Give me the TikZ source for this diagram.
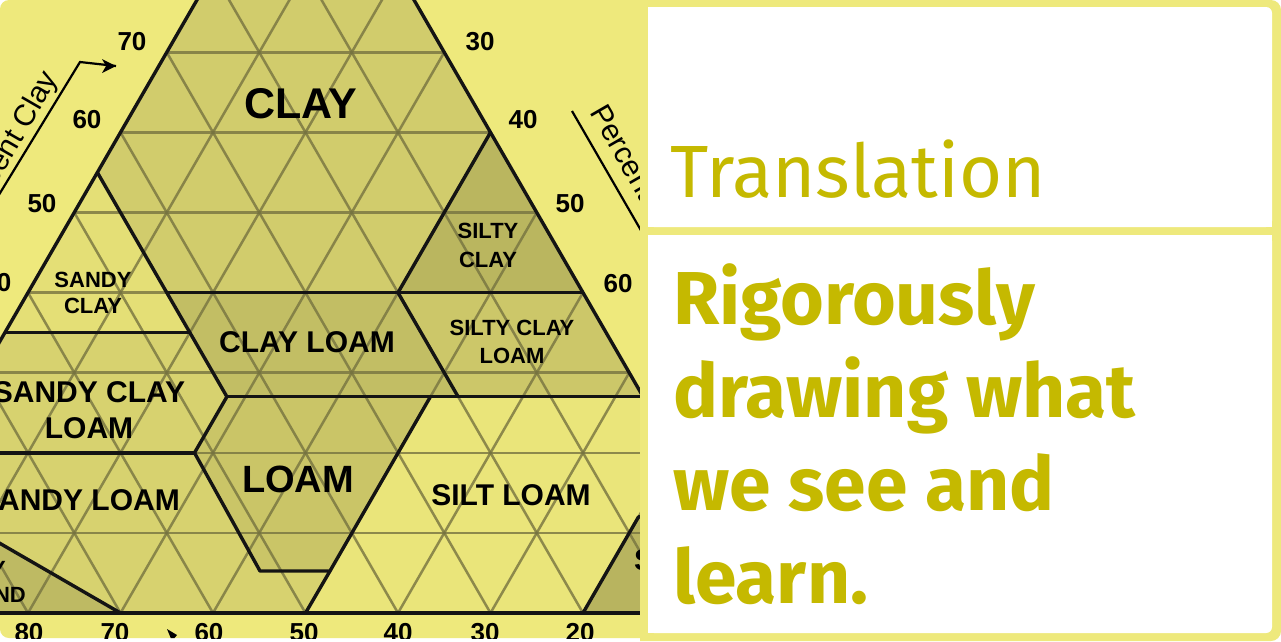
\documentclass[tikz,border=0pt]{standalone}
\usepackage{fontspec}
\setmainfont{Liberation Sans}
\newfontfamily\fira{Fira Sans}
\usetikzlibrary{arrows.meta}
\definecolor{bgy}{RGB}{238,233,124}
\definecolor{ttxt}{RGB}{197,185,0}
\definecolor{gridc}{RGB}{118,115,64}
\definecolor{cClay}{RGB}{209,204,108}
\definecolor{cSandyClay}{RGB}{228,223,118}
\definecolor{cSiltyClay}{RGB}{186,182,95}
\definecolor{cClayLoam}{RGB}{194,190,100}
\definecolor{cSiltyClayLoam}{RGB}{204,199,105}
\definecolor{cSandyClayLoam}{RGB}{215,210,111}
\definecolor{cLoam}{RGB}{202,197,103}
\definecolor{cSiltLoam}{RGB}{234,229,122}
\definecolor{cSandyLoam}{RGB}{215,210,111}
\definecolor{cLoamySand}{RGB}{190,186,99}
\definecolor{cSilt}{RGB}{184,180,95}
\tikzset{
  gridline/.style={draw=gridc, line width=2.5pt, opacity=0.8},
  bound/.style={draw=black!92, line width=3.4pt, line join=round},
  lab/.style={inner sep=0pt, anchor=base, text=black, font=\bfseries\fontsize{#1}{#1}\selectfont},
  num/.style={inner sep=0pt, anchor=base, text=black, font=\bfseries\fontsize{26}{26}\selectfont},
  axtext/.style={inner sep=0pt, text=black, font=\fontsize{30}{30}\selectfont},
}
\begin{document}
\begin{tikzpicture}[x=1pt,y=-1pt]
\useasboundingbox (0,0) rectangle (1281,641);
% page
\fill[white] (0,0) rectangle (1281,641);
% ---------- left panel ----------
\begin{scope}
\clip (640,0) [rounded corners=9pt] -- (0,0) -- (0,638) [sharp corners] -- (640,638) -- cycle;
\fill[bgy] (0,0) rectangle (640,641);
% region fills
\fill[cClay] (305.5,-188) -- (490.5,132.4) -- (398,292.6) -- (166.75,292.6) -- (97.4,172.5) -- cycle;
\fill[cSiltyClay] (490.5,132.4) -- (583,292.6) -- (398,292.6) -- cycle;
\fill[cSandyClay] (97.4,172.5) -- (189.9,332.6) -- (4.9,332.6) -- cycle;
\fill[cClayLoam] (166.75,292.6) -- (398,292.6) -- (458.1,396.7) -- (226.9,396.7) -- cycle;
\fill[cSiltyClayLoam] (398,292.6) -- (583,292.6) -- (643.1,396.7) -- (458.1,396.7) -- cycle;
\fill[cSandyClayLoam] (4.9,332.6) -- (189.9,332.6) -- (226.9,396.7) -- (194.5,452.8) -- (-64.5,452.8) -- cycle;
\fill[cLoam] (226.9,396.7) -- (430.4,396.7) -- (330,571) -- (260,571) -- (194.5,452.8) -- cycle;
\fill[cSiltLoam] (430.4,396.7) -- (643.1,396.7) -- (712.5,516.9) -- (638.5,516.9) -- (583,613) -- (305.5,613) -- (330,571) -- cycle;
\fill[cSandyLoam] (-64.5,452.8) -- (194.5,452.8) -- (260,571) -- (330,571) -- (305.5,613) -- (120.5,613) -- (-87.6,492.8) -- cycle;
\fill[cLoamySand] (-87.6,492.8) -- (120.5,613) -- (-157,613) -- cycle;
\fill[cSilt] (638.5,516.9) -- (712.5,516.9) -- (768,613) -- (583,613) -- cycle;
% grid
\begin{scope}
\clip (-157,613) -- (768,613) -- (305.5,-188) -- cycle;
\foreach \k in {1,...,9}{
  \draw[gridline] (-200,{613-80.1*\k}) -- (800,{613-80.1*\k});
  \draw[gridline] ({-157+92.5*\k},613) -- ++(-462.5,-801);
  \draw[gridline] ({-157+92.5*\k},613) -- ++(462.5,-801);
}
\end{scope}
% triangle edges
\draw[bound] (-157,613) -- (768,613);
\draw[bound] (-157,613) -- (305.5,-188) -- (768,613);
% class boundaries
\draw[bound] (97.4,172.5) -- (226.9,396.7);
\draw[bound] (166.75,292.6) -- (583,292.6);
\draw[bound] (490.5,132.4) -- (398,292.6) -- (458.1,396.7);
\draw[bound] (4.9,332.6) -- (189.9,332.6);
\draw[bound] (226.9,396.7) -- (643.1,396.7);
\draw[bound] (226.9,396.7) -- (194.5,452.8) -- (260,571) -- (330,571) -- (430.4,396.7);
\draw[bound] (-64.5,452.8) -- (194.5,452.8);
\draw[bound] (330,571) -- (305.5,613);
\draw[bound] (-87.6,492.8) -- (120.5,613);
\draw[bound] (583,613) -- (638.5,516.9) -- (712.5,516.9);
% class labels
\node[lab=43] (tClay) at (301,118) {CLAY};
\node[lab=22] (tSc1) at (93,287) {SANDY};
\node[lab=22] (tSc2) at (93,313) {CLAY};
\node[lab=22] (tSic1) at (488,238) {SILTY};
\node[lab=22] (tSic2) at (488,267) {CLAY};
\node[lab=30] (tCl) at (307,352) {CLAY LOAM};
\node[lab=22] (tSicl1) at (512,335) {SILTY CLAY};
\node[lab=22] (tSicl2) at (512,363) {LOAM};
\node[lab=30] (tScl1) at (89,402) {SANDY CLAY};
\node[lab=30] (tScl2) at (89,438) {LOAM};
\node[lab=38] (tLoam) at (298,492) {LOAM};
\node[lab=30] (tSl) at (79,510) {SANDY LOAM};
\node[lab=30] (tSil) at (511,505) {SILT LOAM};
\node[lab=22, anchor=base east] (tLs1) at (6,576) {LOAMY};
\node[lab=22, anchor=base east] (tLs2) at (26,602) {SAND};
\node[lab=30, anchor=base west] (tSi) at (634,570) {SILT};
% axis numbers
\node[num] (l70) at (132,50) {70};
\node[num] (l60) at (87,128) {60};
\node[num] (l50) at (42,212) {50};
\node[num] (l40) at (-3,291) {40};
\node[num] (r30) at (480,50) {30};
\node[num] (r40) at (523,128) {40};
\node[num] (r50) at (570,212) {50};
\node[num] (r60) at (618,292) {60};
\node[num] (b80) at (29,641) {80};
\node[num] (b70) at (115,641) {70};
\node[num] (b60) at (209,641) {60};
\node[num] (b50) at (304,641) {50};
\node[num] (b40) at (398,641) {40};
\node[num] (b30) at (485,641) {30};
\node[num] (b20) at (580,641) {20};
% axis titles
\coordinate (ca) at (-25,234);
\coordinate (cb) at (80,62);
\coordinate (cc) at (116,66);
\draw[line width=2.2pt] (ca) -- (cb) -- (cc);
\fill (cc) -- ++(-14,-7) -- ++(4,7) -- ++(-4,7) -- cycle;
\node[axtext, anchor=base east, rotate=60] (pclay) at (58.5,78) {Percent Clay};
\coordinate (sa) at (572,111);
\coordinate (sb) at (650,246);
\draw[line width=2.2pt] (sa) -- (sb);
\node[axtext, anchor=base west, rotate=-60] (psilt) at (589,112) {Percent Silt};
\fill (167,629) -- (177,635) -- (172,641) -- cycle;
\end{scope}
% ---------- right panel ----------
\fill[bgy] (640,0) [rounded corners=10pt] -- (1281,0) -- (1281,641) [sharp corners] -- (640,641) -- cycle;
\fill[white, rounded corners=6pt] (648,7) rectangle (1272,227);
\fill[white] (648,7) rectangle (1260,227);
\fill[white] (648,20) rectangle (1272,227);
\fill[white, rounded corners=6pt] (648,235) rectangle (1272,633);
\fill[white] (648,235) rectangle (1260,633);
\fill[white] (648,235) rectangle (1272,620);
\node[inner sep=0pt, anchor=base west, text=ttxt, font=\fira\fontsize{74}{74}\selectfont] (trans) at (670,197) {Translation};
\node[inner sep=0pt, anchor=base west, text=ttxt, font=\fira\bfseries\fontsize{75}{75}\selectfont] (m1) at (673,324) {Rigorously};
\node[inner sep=0pt, anchor=base west, text=ttxt, font=\fira\bfseries\fontsize{75}{75}\selectfont] (m2) at (673,417) {drawing what};
\node[inner sep=0pt, anchor=base west, text=ttxt, font=\fira\bfseries\fontsize{75}{75}\selectfont] (m3) at (673,510) {we see and};
\node[inner sep=0pt, anchor=base west, text=ttxt, font=\fira\bfseries\fontsize{75}{75}\selectfont] (m4) at (673,603) {learn.};
\end{tikzpicture}
\end{document}
